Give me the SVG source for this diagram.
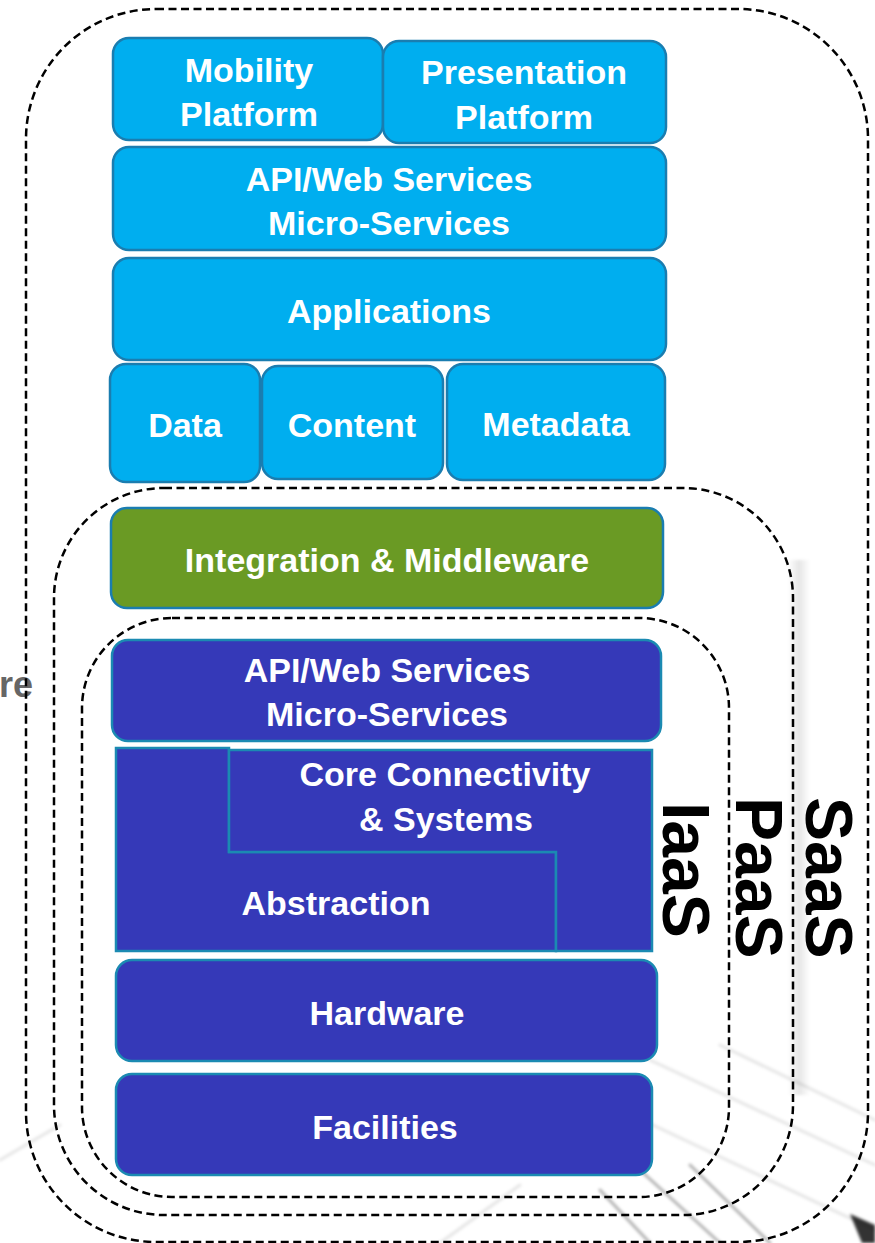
<svg xmlns="http://www.w3.org/2000/svg" width="875" height="1243" viewBox="0 0 875 1243">
  <defs>
    <style>
      .lbl { font-family: "Liberation Sans", Arial, sans-serif; font-weight: bold; font-size: 34px; fill: #ffffff; text-anchor: middle; }
      .tier { font-family: "Liberation Sans", Arial, sans-serif; font-weight: bold; font-size: 66px; fill: #000000; }
      .zone { fill: none; stroke: #000000; stroke-width: 2.5; stroke-dasharray: 8 4.5; }
      .app { fill: #00aeef; stroke: #1a7db0; stroke-width: 2.5; }
      .mid { fill: #6a9a24; stroke: #1a7db0; stroke-width: 2.5; }
      .infra { fill: #3539b8; stroke: #1b8ab2; stroke-width: 2.5; }
      .streak { stroke: #000000; fill: none; stroke-linecap: round; }
    </style>
    <linearGradient id="shade" x1="0" y1="0" x2="1" y2="0">
      <stop offset="0" stop-color="#000" stop-opacity="0"/>
      <stop offset="0.5" stop-color="#000" stop-opacity="0.1"/>
      <stop offset="1" stop-color="#000" stop-opacity="0"/>
    </linearGradient>
    <filter id="soft" x="-10%" y="-10%" width="120%" height="120%">
      <feGaussianBlur stdDeviation="1.5"/>
    </filter>
  </defs>

  <rect width="875" height="1243" fill="#ffffff"/>

  <!-- faint backdrop -->
  <g id="backdrop" filter="url(#soft)">
    <rect x="788" y="560" width="22" height="535" fill="url(#shade)"/>
    <g class="streak" stroke-opacity="0.1" stroke-width="3">
      <line x1="650" y1="1060" x2="875" y2="1165"/>
      <line x1="600" y1="1100" x2="875" y2="1230"/>
      <line x1="720" y1="1045" x2="875" y2="1120"/>
      <line x1="440" y1="1243" x2="520" y2="1185"/>
      <line x1="0" y1="1160" x2="60" y2="1125"/>
    </g>
    <g class="streak" stroke-opacity="0.3" stroke-width="3">
      <line x1="640" y1="1170" x2="720" y2="1243"/>
      <line x1="690" y1="1165" x2="770" y2="1243"/>
      <line x1="600" y1="1190" x2="650" y2="1243"/>
    </g>
    <polygon points="850,1214 875,1225 875,1243 862,1243" fill="#000" fill-opacity="0.8"/>
  </g>

  <!-- cut-off side caption -->
  <text x="33" y="697" font-family="Liberation Sans, Arial, sans-serif" font-weight="bold" font-size="36" fill="#666666" text-anchor="end">re</text>

  <!-- service-model boundaries -->
  <g id="connectors">
    <rect id="saas-zone" class="zone" x="26" y="9" width="842" height="1233" rx="130"/>
    <rect id="paas-zone" class="zone" x="54" y="488" width="739" height="727" rx="110"/>
    <rect id="iaas-zone" class="zone" x="82" y="618" width="647" height="579" rx="90"/>
  </g>

  <!-- tier labels -->
  <text class="tier" transform="translate(806,797) rotate(90)">SaaS</text>
  <text class="tier" transform="translate(736,797) rotate(90)">PaaS</text>
  <text class="tier" transform="translate(663,802) rotate(90)">IaaS</text>

  <!-- application layers -->
  <g id="mobility">
    <rect class="app" x="113" y="38" width="270" height="102" rx="16"/>
    <text class="lbl" x="249" y="82">Mobility</text>
    <text class="lbl" x="249" y="126">Platform</text>
  </g>
  <g id="presentation">
    <rect class="app" x="383" y="41" width="283" height="102" rx="16"/>
    <text class="lbl" x="524" y="84">Presentation</text>
    <text class="lbl" x="524" y="129">Platform</text>
  </g>
  <g id="api-app">
    <rect class="app" x="113" y="147" width="553" height="103" rx="16"/>
    <text class="lbl" x="389" y="191">API/Web Services</text>
    <text class="lbl" x="389" y="235">Micro-Services</text>
  </g>
  <g id="applications">
    <rect class="app" x="113" y="258" width="553" height="102" rx="16"/>
    <text class="lbl" x="389" y="323">Applications</text>
  </g>
  <g id="data">
    <rect class="app" x="110" y="364" width="150" height="118" rx="16"/>
    <text class="lbl" x="185" y="437">Data</text>
  </g>
  <g id="content">
    <rect class="app" x="262" y="366" width="181" height="113" rx="16"/>
    <text class="lbl" x="352" y="437">Content</text>
  </g>
  <g id="metadata">
    <rect class="app" x="447" y="364" width="218" height="116" rx="16"/>
    <text class="lbl" x="556" y="436">Metadata</text>
  </g>

  <!-- platform layer -->
  <g id="integration">
    <rect class="mid" x="111" y="508" width="552" height="100" rx="16"/>
    <text class="lbl" x="387" y="572">Integration &amp; Middleware</text>
  </g>

  <!-- infrastructure layers -->
  <g id="api-infra">
    <rect class="infra" x="112" y="640" width="549" height="101" rx="16"/>
    <text class="lbl" x="387" y="682">API/Web Services</text>
    <text class="lbl" x="387" y="726">Micro-Services</text>
  </g>
  <g id="abstraction">
    <polygon class="infra" points="116,748 229,748 229,852 556,852 556,951 116,951"/>
    <text class="lbl" x="336" y="915">Abstraction</text>
  </g>
  <g id="core">
    <polygon class="infra" points="229,750 652,750 652,951 556,951 556,852 229,852"/>
    <text class="lbl" x="445" y="786">Core Connectivity</text>
    <text class="lbl" x="446" y="831">&amp; Systems</text>
  </g>
  <g id="hardware">
    <rect class="infra" x="116" y="960" width="541" height="101" rx="16"/>
    <text class="lbl" x="387" y="1025">Hardware</text>
  </g>
  <g id="facilities">
    <rect class="infra" x="116" y="1074" width="536" height="101" rx="16"/>
    <text class="lbl" x="385" y="1139">Facilities</text>
  </g>
</svg>
